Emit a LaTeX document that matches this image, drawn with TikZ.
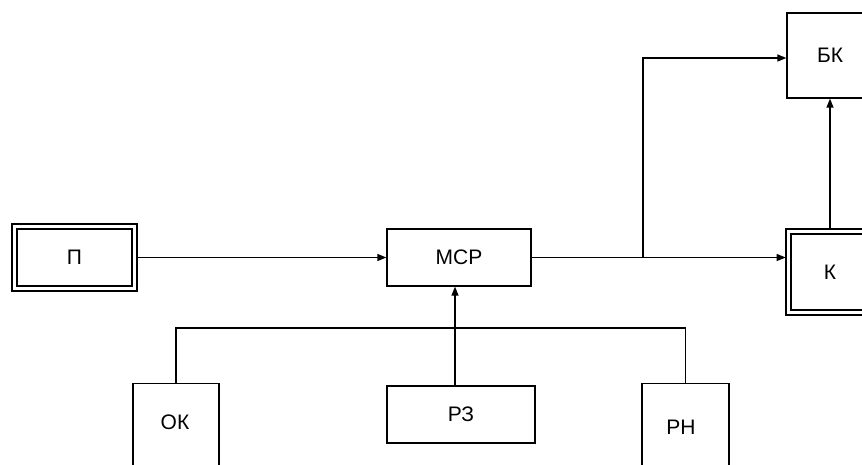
\documentclass[tikz,border=0pt]{standalone}
\usepackage{fontspec}
\setmainfont{Liberation Sans}
\usetikzlibrary{arrows.meta}
\tikzset{
  label text/.style={font=\fontsize{21}{24}\selectfont},
  block/.style={draw, line width=1.3pt, inner sep=0pt, label text},
  dblock/.style={block, double, double distance=3.7pt},
  flow/.style={line width=1.3pt, -{Triangle[length=9pt,width=7pt]}},
  wire/.style={line width=1.3pt},
}
\begin{document}
\begin{tikzpicture}[x=1pt, y=-1pt]
  \useasboundingbox (0,0) rectangle (862,465);
  \clip (0,0) rectangle (862,465);
  % blocks
  \node (p)   [dblock, minimum width=120pt, minimum height=62pt] at (74.5,257.5) {П};
  \node (mcp) [block, minimum width=144pt, minimum height=57pt] at (459,257.5) {МСР};
  \node (bk)  [block, minimum width=86pt, minimum height=85pt] at (830,55.5) {БК};
  \node (k)   [dblock, minimum width=83pt, minimum height=81pt] at (830,272) {К};
  \node (rz)  [block, minimum width=148pt, minimum height=57pt] at (461,414.5) {РЗ};
  \node (ok)  [block, minimum width=86pt, minimum height=120pt, anchor=north] at (176,383) {};
  \node (rn)  [block, minimum width=87pt, minimum height=120pt, anchor=north] at (685.5,383) {};
  \node (oktext) [label text] at (175,422) {ОК};
  \node (rntext) [label text] at (681,427) {РН};
  % lines
  \coordinate (split) at (643,257.5);
  \coordinate (bus) at (455,328);
  \draw[flow, shorten <=2.5pt] (p.east) -- (mcp.west);
  \draw[flow, shorten >=2.2pt] (mcp.east) -- (k.west |- mcp.east);
  \draw[flow] (split) |- ([yshift=-2.5pt]bk.west);
  \draw[flow, shorten <=2.5pt] (k.north) -- (bk.south);
  \draw[flow] (rz.north -| bus) -- (mcp.south -| bus);
  \draw[wire] (ok.north) |- (bus) -| (rn.north);
\end{tikzpicture}
\end{document}
